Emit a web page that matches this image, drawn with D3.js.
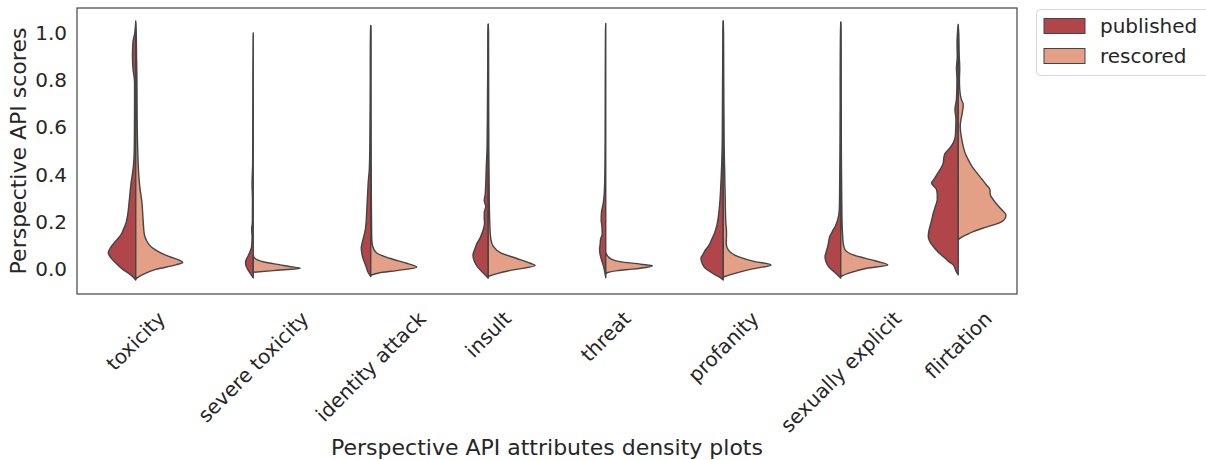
<!DOCTYPE html>
<html>
<head>
<meta charset="utf-8">
<script src="https://cdn.jsdelivr.net/npm/d3@7"></script>
<style>
  html, body { margin: 0; padding: 0; background: #fff; }
  svg { display: block; font-family: "DejaVu Sans", sans-serif; }
</style>
</head>
<body>
<svg id="chart" width="1206" height="460"></svg>
<script>
// ---------------- DATA ----------------
const categories = ["toxicity", "severe toxicity", "identity attack", "insult",
  "threat", "profanity", "sexually explicit", "flirtation"];
const seriesNames = ["published", "rescored"];
const yTicks = [0.0, 0.2, 0.4, 0.6, 0.8, 1.0];

// Estimated kernel densities: [score, relative density]
const publishedDensity = [
  // toxicity
  [[-0.045,0],[-0.035,2],[-0.02,6],[0,13],[0.027,20],[0.05,25],[0.07,27.5],[0.09,25.5],[0.11,22],[0.125,19],[0.145,15],[0.167,12.5],[0.2,9.5],[0.22,8.5],[0.29,6.5],[0.365,4.7],[0.43,2.5],[0.5,1.5],[0.6,1.3],[0.72,1.2],[0.79,1.2],[0.85,2.8],[0.9,3.3],[0.96,2.8],[1.0,1],[1.05,0]],
  // severe toxicity
  [[-0.036,0],[-0.02,2.5],[0,5.5],[0.02,7.5],[0.033,7.7],[0.05,6],[0.07,3.7],[0.1,1.5],[0.14,1.2],[0.17,1.6],[0.2,0.9],[0.3,0.8],[0.36,1.2],[0.45,0.6],[0.6,0.5],[0.8,0.4],[0.97,0.2],[1.0,0]],
  // identity attack
  [[-0.03,0],[-0.01,3],[0.01,4.5],[0.027,6],[0.05,8],[0.07,9],[0.09,9.5],[0.11,8.7],[0.139,7],[0.167,5.5],[0.2,4.6],[0.23,4.2],[0.29,3.5],[0.33,3],[0.37,2.5],[0.42,1.5],[0.5,1],[0.6,0.8],[0.7,0.6],[0.8,0.5],[0.9,0.5],[1.0,0.3],[1.03,0]],
  // insult
  [[-0.037,0],[-0.015,5],[0.012,11],[0.035,14],[0.061,15.3],[0.085,13.5],[0.11,11.3],[0.13,8.5],[0.153,6.3],[0.175,4.5],[0.196,3.7],[0.215,4],[0.24,4],[0.266,2.5],[0.29,4],[0.32,3],[0.365,2.5],[0.43,2],[0.5,1.3],[0.58,1],[0.7,0.8],[0.8,0.6],[0.9,0.5],[1.0,0.4],[1.036,0]],
  // threat
  [[-0.035,0],[-0.01,1],[0.01,2],[0.03,3.5],[0.06,5.5],[0.083,6.2],[0.11,5.5],[0.125,5.3],[0.15,3.6],[0.18,3.8],[0.21,4.6],[0.24,4.3],[0.28,2.5],[0.31,1.7],[0.38,1],[0.5,0.7],[0.6,0.6],[0.8,0.5],[1.0,0.3],[1.04,0]],
  // profanity
  [[-0.045,0],[-0.035,3],[-0.023,8],[-0.01,13],[0.005,18],[0.025,21],[0.047,22.3],[0.065,20],[0.083,17.7],[0.1,14.5],[0.125,11.7],[0.145,9.5],[0.167,7.7],[0.19,6.2],[0.22,5],[0.29,3.3],[0.37,2.3],[0.45,1.5],[0.55,1],[0.7,0.8],[0.85,0.6],[1.0,0.4],[1.05,0]],
  // sexually explicit
  [[-0.037,0],[-0.016,5],[0.012,12.3],[0.035,15],[0.054,15.7],[0.075,14.5],[0.097,13],[0.12,12],[0.139,11],[0.16,8.5],[0.18,5.7],[0.2,3.8],[0.22,2.5],[0.25,1.5],[0.3,1.2],[0.4,1],[0.5,0.8],[0.6,0.7],[0.7,0.6],[0.8,0.6],[0.9,0.5],[1.0,0.3],[1.045,0]],
  // flirtation
  [[-0.023,0],[-0.005,2.5],[0.019,5],[0.035,10],[0.054,15],[0.075,20.5],[0.097,25],[0.118,28.5],[0.139,30],[0.16,29.5],[0.181,28.3],[0.21,26.5],[0.238,25],[0.265,23],[0.295,21],[0.315,21],[0.337,21.7],[0.35,24],[0.365,26.7],[0.38,24.5],[0.41,20],[0.43,17],[0.45,15],[0.47,14.5],[0.49,13.3],[0.51,9],[0.535,5],[0.56,3],[0.6,2.5],[0.633,2.3],[0.676,3.3],[0.72,1.8],[0.8,1.3],[0.85,1.8],[0.9,1],[0.95,1.2],[1.0,0.8],[1.036,0]]
];

const rescoredDensity = [
  // toxicity
  [[-0.04,0],[-0.024,6],[0,20],[0.019,40],[0.029,47],[0.04,43],[0.055,33],[0.07,25],[0.085,19],[0.097,15],[0.12,11],[0.15,8.5],[0.2,7.5],[0.29,6],[0.35,4],[0.4,3],[0.5,2],[0.6,1.5],[0.7,1.3],[0.8,1.2],[0.9,0.8],[1.0,0.5],[1.04,0]],
  // severe toxicity
  [[-0.012,0],[-0.005,20],[0.005,47],[0.012,36],[0.019,27],[0.03,12],[0.04,4],[0.05,1],[0.058,0]],
  // identity attack
  [[-0.025,0],[-0.015,8],[-0.005,26],[0.009,46],[0.018,42],[0.026,36],[0.047,19],[0.069,6],[0.097,2],[0.13,1],[0.2,0.8],[0.3,0.6],[0.4,0.5],[0.5,0.4],[0.6,0.3],[0.8,0.2],[1.0,0.2],[1.03,0]],
  // insult
  [[-0.03,0],[-0.019,8],[-0.002,25],[0.016,47],[0.026,42],[0.047,28],[0.069,13],[0.097,5],[0.13,2.5],[0.2,1.5],[0.3,1],[0.4,0.8],[0.5,0.6],[0.6,0.5],[0.8,0.4],[1.0,0.3],[1.036,0]],
  // threat
  [[-0.018,0],[-0.013,2],[-0.005,12],[0.001,27],[0.008,40],[0.015,46.7],[0.022,35],[0.033,14],[0.045,5],[0.056,2],[0.07,0]],
  // profanity
  [[-0.032,0],[-0.019,10],[0.001,28],[0.019,47.7],[0.033,31.7],[0.054,15],[0.083,5],[0.11,3],[0.155,3.3],[0.2,2.5],[0.29,2],[0.4,1.5],[0.5,1],[0.6,0.8],[0.8,0.5],[1.0,0.3],[1.05,0]],
  // sexually explicit
  [[-0.03,0],[-0.016,8],[0.005,26],[0.019,47],[0.03,40],[0.04,31],[0.061,12.6],[0.083,4.3],[0.11,2.5],[0.15,1.8],[0.2,1.3],[0.3,1],[0.4,0.8],[0.5,0.6],[0.7,0.5],[0.9,0.4],[1.0,0.3],[1.045,0]],
  // flirtation
  [[0.125,0],[0.135,3],[0.146,8],[0.16,15],[0.175,25],[0.19,37],[0.203,44],[0.217,47],[0.231,47.7],[0.25,44],[0.273,39],[0.295,35],[0.316,32],[0.337,31.7],[0.358,28],[0.385,23],[0.41,18.3],[0.437,13.5],[0.464,10],[0.49,7],[0.52,5],[0.55,3.5],[0.605,2],[0.633,2.7],[0.66,4],[0.697,5],[0.72,3],[0.76,1.5],[0.8,1.2],[0.85,1.5],[0.9,1],[1.0,0.5],[1.03,0]]
];

// ---------------- LAYOUT / STYLE ----------------
const colors = { published: "#b0454a", rescored: "#e3a086" };
const edgeColor = "#444444";
const textColor = "#262626";
const plot = { left: 77, right: 1017, top: 8, bottom: 294 };

const svg = d3.select("#chart");

const x = d3.scaleBand().domain(categories).range([plot.left, plot.right]).padding(0);
const y = d3.scaleLinear().domain([-0.104, 1.105]).range([plot.bottom, plot.top]);
const maxDensity = d3.max([...publishedDensity, ...rescoredDensity].flat(), d => d[1]);
const w = d3.scaleLinear().domain([0, maxDensity]).range([0, x.bandwidth() * 0.406]);

// violins
const g = svg.append("g");
categories.forEach((cat, i) => {
  const cx = x(cat) + x.bandwidth() / 2;
  const leftArea = d3.area()
    .y(d => y(d[0]))
    .x0(cx)
    .x1(d => cx - w(d[1]))
    .curve(d3.curveMonotoneY);
  const rightArea = d3.area()
    .y(d => y(d[0]))
    .x0(cx)
    .x1(d => cx + w(d[1]))
    .curve(d3.curveMonotoneY);
  g.append("path")
    .attr("d", leftArea(publishedDensity[i]))
    .attr("fill", colors.published)
    .attr("stroke", edgeColor)
    .attr("stroke-width", 1.4)
    .attr("stroke-linejoin", "round");
  g.append("path")
    .attr("d", rightArea(rescoredDensity[i]))
    .attr("fill", colors.rescored)
    .attr("stroke", edgeColor)
    .attr("stroke-width", 1.4)
    .attr("stroke-linejoin", "round");
});

// frame
svg.append("rect")
  .attr("x", plot.left).attr("y", plot.top)
  .attr("width", plot.right - plot.left).attr("height", plot.bottom - plot.top)
  .attr("fill", "none").attr("stroke", "#4a4a4a").attr("stroke-width", 1.25);

// y axis
const yAxis = d3.axisLeft(y).tickValues(yTicks).tickFormat(d3.format(".1f")).tickSize(0).tickPadding(10);
const yg = svg.append("g").attr("transform", `translate(${plot.left},0)`).call(yAxis);
yg.select(".domain").remove();
yg.selectAll("text").attr("font-size", 20).attr("fill", textColor).attr("font-family", "DejaVu Sans");

// x axis labels (rotated 45°, centered on tick, top aligned)
const xAxis = d3.axisBottom(x).tickSize(0).tickPadding(0);
const xg = svg.append("g").attr("transform", `translate(0,${plot.bottom})`).call(xAxis);
xg.select(".domain").remove();
const labelTop = 308 - plot.bottom;
xg.selectAll(".tick text")
  .attr("font-size", 20).attr("fill", textColor).attr("font-family", "DejaVu Sans")
  .attr("text-anchor", "middle")
  .attr("dy", "0.35em")
  .each(function () {
    const L = this.getComputedTextLength();
    const h = 20;
    const half = (L / 2 + h / 2) * Math.SQRT1_2;
    d3.select(this).attr("y", 0).attr("transform", `translate(0,${labelTop + half}) rotate(-45)`);
  });

// axis titles
svg.append("text")
  .attr("x", (plot.left + plot.right) / 2).attr("y", 455)
  .attr("text-anchor", "middle").attr("font-size", 22).attr("fill", textColor)
  .text("Perspective API attributes density plots");
svg.append("text")
  .attr("transform", `translate(26,${(plot.top + plot.bottom) / 2}) rotate(-90)`)
  .attr("text-anchor", "middle").attr("font-size", 22).attr("fill", textColor)
  .text("Perspective API scores");

// legend
const lg = svg.append("g");
lg.append("rect")
  .attr("x", 1036.5).attr("y", 9.5).attr("width", 190).attr("height", 66)
  .attr("rx", 4).attr("fill", "#fff").attr("stroke", "#d6d6d6").attr("stroke-width", 1);
seriesNames.forEach((name, i) => {
  lg.append("rect")
    .attr("x", 1044).attr("y", 18.5 + i * 30).attr("width", 41).attr("height", 15)
    .attr("fill", colors[name]).attr("stroke", edgeColor).attr("stroke-width", 1);
  lg.append("text")
    .attr("x", 1100).attr("y", 32.5 + i * 30)
    .attr("font-size", 20).attr("fill", textColor)
    .text(name);
});
</script>
</body>
</html>
